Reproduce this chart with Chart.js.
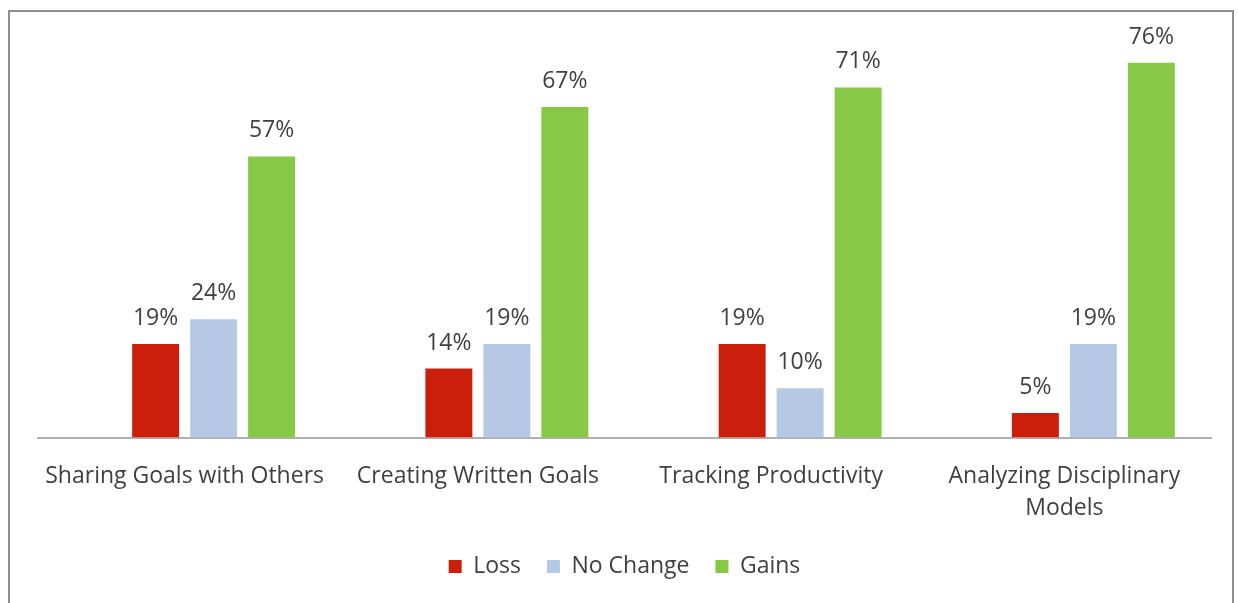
<!DOCTYPE html>
<html>
<head>
<meta charset="utf-8">
<script src="https://cdn.jsdelivr.net/npm/chart.js@4"></script>
<style>
  html, body { margin: 0; padding: 0; background: #fff; }
  #frame {
    position: absolute; left: 8px; top: 10px;
    width: 1222px; height: 591px;
    border: 2px solid #8e8e8e; border-bottom: none;
    background: #fff;
  }
  #chart { display: block; }
</style>
</head>
<body>
<div id="frame"><canvas id="chart" width="1222" height="591"></canvas></div>
<script>
// ── data ──
const categories = [
  'Sharing Goals with Others',
  'Creating Written Goals',
  'Tracking Productivity',
  ['Analyzing Disciplinary', 'Models'],
];
const loss     = [19, 14, 19, 5];
const noChange = [24, 19, 10, 19];
const gains    = [57, 67, 71, 76];

const COLORS = {
  loss:  '#cc1f0b',
  none:  '#b5c9e4',
  gains: '#87c846',
  text:  '#404040',
  axis:  '#b0b0b0',
};
const FONT = "'Open Sans', 'Lato', sans-serif";

// value labels above each bar
const valueLabels = {
  id: 'valueLabels',
  afterDatasetsDraw(chart) {
    const { ctx } = chart;
    ctx.save();
    ctx.fillStyle = COLORS.text;
    ctx.font = `23px ${FONT}`;
    ctx.textAlign = 'center';
    ctx.textBaseline = 'alphabetic';
    chart.data.datasets.forEach((ds, i) => {
      if (!ds.label) return;
      chart.getDatasetMeta(i).data.forEach((bar, j) => {
        ctx.fillText(ds.data[j] + '%', bar.x, bar.y - 19);
      });
    });
    ctx.restore();
  },
};

new Chart(document.getElementById('chart'), {
  type: 'bar',
  data: {
    labels: categories,
    datasets: [
      // empty slot: the original groups sit right of the category centre
      { label: '', data: [] },
      { label: 'Loss',      data: loss,     backgroundColor: COLORS.loss },
      { label: 'No Change', data: noChange, backgroundColor: COLORS.none },
      { label: 'Gains',     data: gains,    backgroundColor: COLORS.gains },
    ],
  },
  options: {
    responsive: false,
    animation: false,
    datasets: { bar: { categoryPercentage: 0.791, barPercentage: 0.81 } },
    layout: { padding: { left: 28, right: 21, top: 31, bottom: 15 } },
    plugins: {
      tooltip: { enabled: false },
      legend: {
        position: 'bottom',
        labels: {
          color: COLORS.text,
          font: { family: FONT, size: 23 },
          boxWidth: 13, boxHeight: 13,
          padding: 26,
          filter: item => item.text !== '',
        },
      },
    },
    scales: {
      x: {
        grid: { display: false },
        border: { color: COLORS.axis, width: 2 },
        ticks: {
          color: COLORS.text,
          font: { family: FONT, size: 23, lineHeight: 1.4 },
          padding: 15,
          maxRotation: 0,
          autoSkip: false,
        },
        afterFit(scale) { scale.height -= 11; },
      },
      y: {
        display: false,
        min: 0, max: 80,
      },
    },
  },
  plugins: [valueLabels],
});
</script>
</body>
</html>
